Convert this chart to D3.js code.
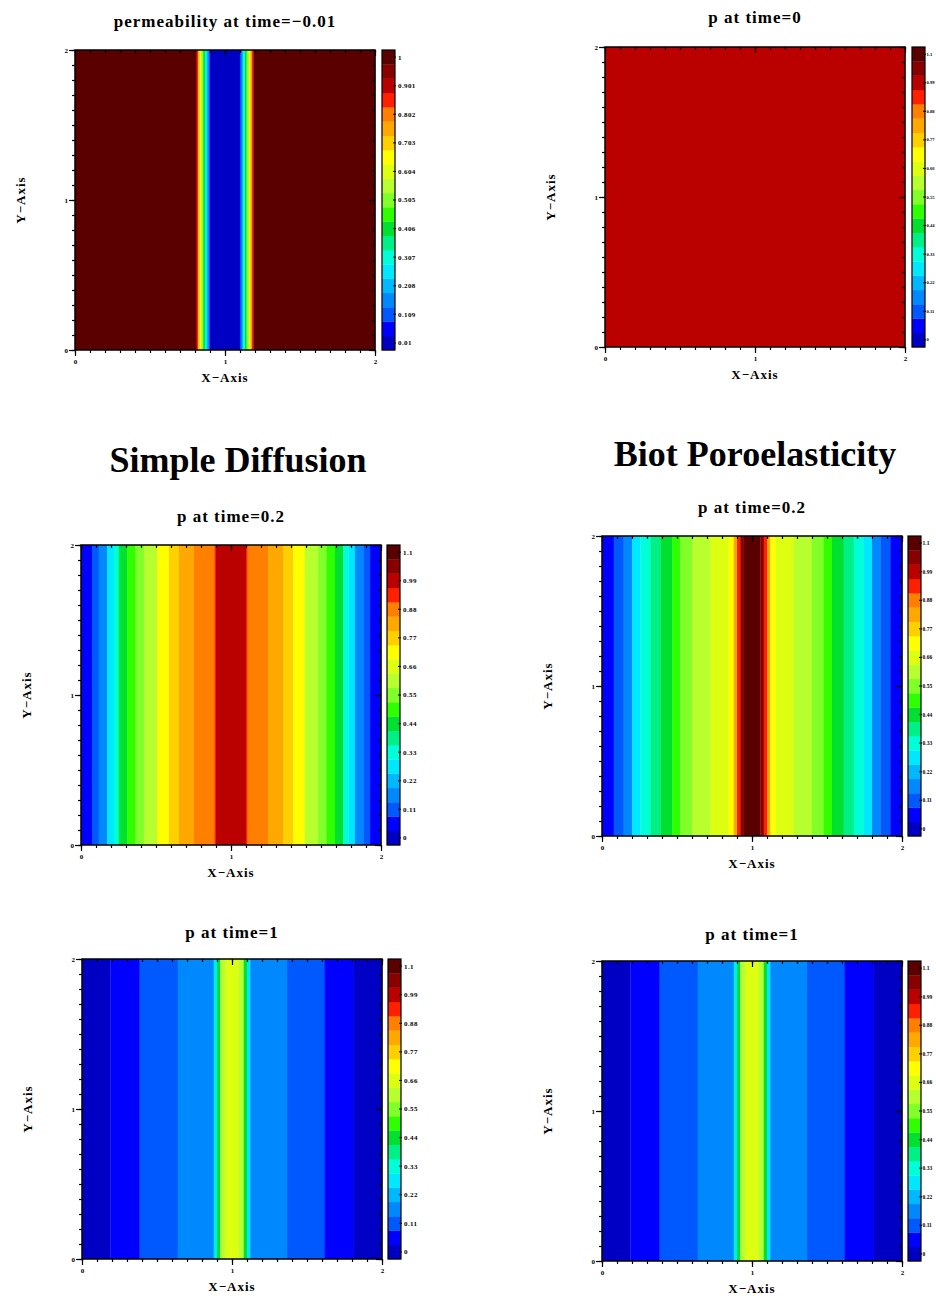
<!DOCTYPE html>
<html>
<head>
<meta charset="utf-8">
<script src="https://cdn.jsdelivr.net/npm/d3@7"></script>
<style>
    body { margin: 0; background: #fff; }
    text { font-family: "Liberation Serif", "DejaVu Serif", serif; font-weight: bold; fill: #000; }
</style>
</head>
<body>
<script>
let svgWidth = 936
let svgHeight = 1296

// colour levels of the contour plots, bottom to top
let palette = ["#0000c4", "#0000ff", "#0058ff", "#0088ff", "#00b8ff", "#00e8ff", "#00ffd8",
    "#00f088", "#00e030", "#30ff00", "#80ff28", "#b8ff30", "#ddff10", "#ffff00",
    "#ffd000", "#ffa800", "#ff8000", "#ff2000", "#bb0000", "#880000", "#5a0000"]

// colorbar tick labels
let permLabels = ["1", "0.901", "0.802", "0.703", "0.604", "0.505", "0.406", "0.307", "0.208", "0.109", "0.01"]
let pLabels = ["1.1", "0.99", "0.88", "0.77", "0.66", "0.55", "0.44", "0.33", "0.22", "0.11", "0"]
let axisLabels = ["0", "1", "2"]

// every field is constant in y: bands of x (edges) with one value each
let permEdges = [0, 0.811, 0.822, 0.833, 0.844, 0.855, 0.866, 0.877, 0.889, 0.9,
    1.1, 1.111, 1.122, 1.133, 1.144, 1.156, 1.167, 1.178, 1.189, 2]
let permValues = [1, 0.85, 0.72, 0.6, 0.5, 0.4, 0.3, 0.2, 0.1, 0.01,
    0.1, 0.2, 0.3, 0.4, 0.5, 0.6, 0.72, 0.85, 1]

let p0Edges = [0, 2]
let p0Values = [1]

let diff02Edges = [0, 0.073, 0.118, 0.174, 0.218, 0.252, 0.307, 0.363, 0.419, 0.508, 0.586, 0.653, 0.753, 0.89, 0.9,
    1.1, 1.11, 1.247, 1.347, 1.414, 1.492, 1.581, 1.637, 1.693, 1.748, 1.782, 1.826, 1.882, 1.927, 2]
let diff02Values = [0.055, 0.11, 0.165, 0.275, 0.33, 0.44, 0.495, 0.55, 0.605, 0.715, 0.77, 0.825, 0.88, 0.935,
    0.99, 0.935, 0.88, 0.825, 0.77, 0.715, 0.605, 0.55, 0.495, 0.44, 0.33, 0.275, 0.165, 0.11, 0.055]

let biot02Edges = [0, 0.078, 0.144, 0.2, 0.256, 0.322, 0.389, 0.467, 0.522, 0.6, 0.722, 0.844, 0.878, 0.9, 0.922, 0.944,
    1.056, 1.078, 1.1, 1.122, 1.156, 1.278, 1.4, 1.478, 1.533, 1.611, 1.678, 1.744, 1.8, 1.856, 1.922, 2]
let biot02Values = [0.055, 0.11, 0.165, 0.275, 0.33, 0.385, 0.44, 0.495, 0.55, 0.605, 0.66, 0.715, 0.825, 0.935, 1.045,
    1.1, 1.045, 0.935, 0.825, 0.715, 0.66, 0.605, 0.55, 0.495, 0.44, 0.385, 0.33, 0.275, 0.165, 0.11, 0.055]

let diff1Edges = [0, 0.189, 0.384, 0.638, 0.878, 0.9, 0.922, 0.956, 1.044, 1.078, 1.1, 1.122, 1.367, 1.618, 1.811, 2]
let diff1Values = [0, 0.055, 0.11, 0.165, 0.275, 0.44, 0.605, 0.66, 0.605, 0.44, 0.275, 0.165, 0.11, 0.055, 0]

let biot1Edges = [0, 0.189, 0.384, 0.638, 0.878, 0.9, 0.922, 0.956, 1.044, 1.078, 1.1, 1.122, 1.367, 1.618, 1.811, 2]
let biot1Values = [0, 0.055, 0.11, 0.165, 0.275, 0.44, 0.605, 0.66, 0.605, 0.44, 0.275, 0.165, 0.11, 0.055, 0]

let panels = [
    { title: "permeability at time=\u22120.01", edges: permEdges, values: permValues, vmin: 0.01, vmax: 1, labels: permLabels,
      left: 75, top: 50, size: 300, bar: 382, titleY: 27, labelSize: 7 },
    { title: "p at time=0", edges: p0Edges, values: p0Values, vmin: 0, vmax: 1.1, labels: pLabels,
      left: 605, top: 47, size: 300, bar: 912, titleY: 23, labelSize: 4.6 },
    { title: "p at time=0.2", edges: diff02Edges, values: diff02Values, vmin: 0, vmax: 1.1, labels: pLabels,
      left: 81, top: 545, size: 300, bar: 387, titleY: 522, labelSize: 7 },
    { title: "p at time=0.2", edges: biot02Edges, values: biot02Values, vmin: 0, vmax: 1.1, labels: pLabels,
      left: 602, top: 536, size: 300, bar: 908, titleY: 513, labelSize: 5.5 },
    { title: "p at time=1", edges: diff1Edges, values: diff1Values, vmin: 0, vmax: 1.1, labels: pLabels,
      left: 82, top: 959, size: 300, bar: 388, titleY: 938, labelSize: 7 },
    { title: "p at time=1", edges: biot1Edges, values: biot1Values, vmin: 0, vmax: 1.1, labels: pLabels,
      left: 602, top: 961, size: 300, bar: 908, titleY: 940, labelSize: 5.5 }
]

let svg = d3.select("body")
    .append("svg")
    .attr("width", svgWidth)
    .attr("height", svgHeight)

function drawPanel(svg, cfg) {
    let nLevels = palette.length
    let step = (cfg.vmax - cfg.vmin) / (nLevels - 1)

    let xScale = d3.scaleLinear().domain([0, 2]).range([cfg.left, cfg.left + cfg.size])
    let yScale = d3.scaleLinear().domain([0, 2]).range([cfg.top + cfg.size, cfg.top])
    let color = d3.scaleQuantize()
        .domain([cfg.vmin - step / 2, cfg.vmax + step / 2])
        .range(palette)

    let bands = cfg.values.map(function (v, i) {
        return { x0: cfg.edges[i], x1: cfg.edges[i + 1], v: v }
    })

    // field
    svg.append("g")
        .selectAll("rect")
        .data(bands)
        .enter()
        .append("rect")
        .attr("x", function (d) { return xScale(d.x0) })
        .attr("width", function (d) { return xScale(d.x1) - xScale(d.x0) + 0.3 })
        .attr("y", yScale(2))
        .attr("height", yScale(0) - yScale(2))
        .attr("fill", function (d) { return color(d.v) })

    // frame
    svg.append("rect")
        .attr("x", xScale(0))
        .attr("y", yScale(2))
        .attr("width", cfg.size)
        .attr("height", cfg.size)
        .attr("fill", "none")
        .attr("stroke", "#000")
        .attr("stroke-width", 1.5)

    let minor = d3.range(0, 2.001, 0.1)
    let major = [0, 1, 2]
    let b = cfg.top + cfg.size

    function ticks(axis, tr, len) {
        let g = svg.append("g")
            .attr("transform", tr)
            .call(axis.tickValues(minor).tickSize(len).tickFormat(""))
        g.select(".domain").remove()
        g.selectAll("line").attr("stroke", "#000").attr("stroke-width", 1.2)
        let g2 = svg.append("g")
            .attr("transform", tr)
            .call(axis.tickValues(major).tickSize(len * 2))
        g2.select(".domain").remove()
        g2.selectAll("line").attr("stroke", "#000").attr("stroke-width", 1.2)
        return g2
    }

    let bottom = ticks(d3.axisBottom(xScale), "translate(0," + b + ")", 3)
    bottom.selectAll("text")
        .text(function (d, i) { return axisLabels[i] })
        .attr("y", 9)
        .attr("font-size", 7)
    let top = ticks(d3.axisBottom(xScale), "translate(0," + cfg.top + ")", 3)
    top.selectAll("text").remove()
    let left = ticks(d3.axisLeft(yScale), "translate(" + cfg.left + ",0)", 3)
    left.selectAll("text")
        .text(function (d, i) { return axisLabels[i] })
        .attr("x", -7)
        .attr("font-size", 7)
    let right = ticks(d3.axisLeft(yScale), "translate(" + (cfg.left + cfg.size) + ",0)", 3)
    right.selectAll("text").remove()
    svg.selectAll(".tick text").attr("font-family", "Liberation Serif").attr("font-weight", "bold")

    // titles
    svg.append("text")
        .attr("x", cfg.left + cfg.size / 2)
        .attr("y", cfg.titleY)
        .attr("text-anchor", "middle")
        .attr("font-size", 17)
        .attr("letter-spacing", 1)
        .text(cfg.title)

    svg.append("text")
        .attr("x", cfg.left + cfg.size / 2)
        .attr("y", b + 32)
        .attr("text-anchor", "middle")
        .attr("font-size", 13)
        .attr("letter-spacing", 1)
        .text("X\u2212Axis")

    svg.append("text")
        .attr("transform", "translate(" + (cfg.left - 50) + "," + (cfg.top + cfg.size / 2) + ") rotate(-90)")
        .attr("text-anchor", "middle")
        .attr("font-size", 13)
        .attr("letter-spacing", 1)
        .text("Y\u2212Axis")

    // colorbar
    let barScale = d3.scaleBand()
        .domain(d3.range(nLevels).reverse())
        .range([cfg.top, b])

    svg.append("g")
        .selectAll("rect")
        .data(d3.range(nLevels))
        .enter()
        .append("rect")
        .attr("x", cfg.bar)
        .attr("width", 13)
        .attr("y", function (d) { return barScale(d) })
        .attr("height", barScale.bandwidth() + 0.3)
        .attr("fill", function (d) { return palette[d] })

    svg.append("rect")
        .attr("x", cfg.bar)
        .attr("y", cfg.top)
        .attr("width", 13)
        .attr("height", cfg.size)
        .attr("fill", "none")
        .attr("stroke", "#000")
        .attr("stroke-width", 1.2)

    let labelled = d3.range(nLevels - 1, -1, -2)
    let lab = svg.append("g")
        .selectAll("g")
        .data(labelled)
        .enter()
        .append("g")
        .attr("transform", function (d) {
            return "translate(" + (cfg.bar + 13) + "," + (barScale(d) + barScale.bandwidth() / 2) + ")"
        })
    lab.append("line")
        .attr("x1", -2)
        .attr("x2", 1)
        .attr("stroke", "#000")
    lab.append("text")
        .attr("x", cfg.labelSize < 7 ? 1.5 : 3)
        .attr("dy", "0.35em")
        .attr("font-size", cfg.labelSize)
        .attr("letter-spacing", cfg.labelSize < 7 ? 0 : 0.4)
        .text(function (d, i) { return cfg.labels[i] })
}

panels.forEach(function (p) { drawPanel(svg, p) })

// group headings
svg.append("text")
    .attr("x", 238)
    .attr("y", 472)
    .attr("text-anchor", "middle")
    .attr("font-size", 36)
    .text("Simple Diffusion")

svg.append("text")
    .attr("x", 755)
    .attr("y", 466)
    .attr("text-anchor", "middle")
    .attr("font-size", 36)
    .text("Biot Poroelasticity")
</script>
</body>
</html>
